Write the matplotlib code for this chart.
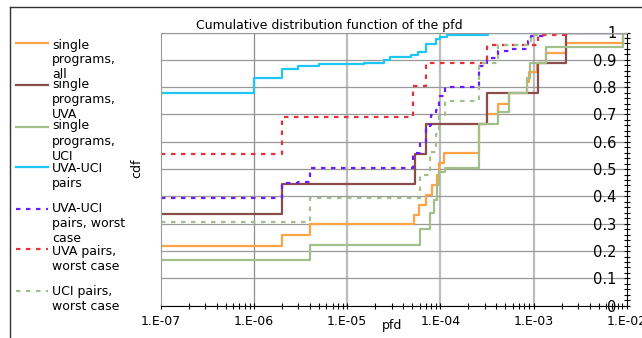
import matplotlib
matplotlib.use('Agg')
import matplotlib.pyplot as plt
from matplotlib.lines import Line2D
from matplotlib.ticker import LogLocator, MultipleLocator, FuncFormatter, NullFormatter
import numpy as np

plt.rcParams['font.family'] = ['DejaVu Sans']
plt.rcParams['font.size'] = 9

# step positions (pfd) and cdf level reached at each step
orange_x = [1e-7, 2e-6, 4e-6, 5.2e-5, 5.95e-5, 7.0e-5, 8.1e-5, 9.3e-5, 9.8e-5, 1.1e-4,
            2.6e-4, 3.2e-4, 4.2e-4, 5.5e-4, 8.6e-4, 9.0e-4, 1.1e-3, 1.36e-3, 2.23e-3, 9.2e-3]
orange_y = [0.22, 0.259, 0.298, 0.332, 0.369, 0.405, 0.442, 0.478, 0.521, 0.558,
            0.665, 0.70, 0.738, 0.778, 0.82, 0.854, 0.89, 0.925, 0.962, 1.0]

brown_x = [1e-7, 2e-6, 5.3e-5, 7.0e-5, 3.2e-4, 1.13e-3, 2.23e-3]
brown_y = [0.335, 0.444, 0.555, 0.665, 0.778, 0.889, 1.0]

green_x = [1e-7, 4e-6, 6.1e-5, 7.8e-5, 8.5e-5, 9.3e-5, 9.8e-5, 1.12e-4, 2.6e-4,
           4.2e-4, 5.5e-4, 8.6e-4, 9.2e-4, 1.36e-3, 9.2e-3]
green_y = [0.167, 0.222, 0.28, 0.338, 0.387, 0.442, 0.49, 0.503, 0.665,
           0.71, 0.778, 0.833, 0.888, 0.946, 1.0]

cyan_x = [1e-7, 1e-6, 2e-6, 3e-6, 5e-6, 1.5e-5, 2.5e-5, 2.9e-5, 4.8e-5, 5.7e-5,
          7.0e-5, 9.1e-5, 1.0e-4, 1.17e-4, 3.25e-4]
cyan_y = [0.78, 0.835, 0.865, 0.877, 0.883, 0.89, 0.90, 0.91, 0.918, 0.93,
          0.958, 0.976, 0.984, 0.99, 1.0]

purple_x = [1e-7, 2e-6, 3e-6, 4e-6, 5.1e-5, 6.05e-5, 7.0e-5, 7.7e-5, 8.0e-5, 9.1e-5,
            9.6e-5, 1.12e-4, 2.6e-4, 3.2e-4, 4.2e-4, 5.5e-4, 8.8e-4, 9.4e-4, 1.4e-3]
purple_y = [0.395, 0.448, 0.454, 0.505, 0.558, 0.60, 0.649, 0.661, 0.698, 0.716,
            0.769, 0.80, 0.876, 0.905, 0.931, 0.94, 0.968, 0.986, 1.0]

red_x = [1e-7, 2e-6, 5.1e-5, 7.0e-5, 3.2e-4, 1.13e-3, 2.23e-3]
red_y = [0.555, 0.692, 0.805, 0.889, 0.954, 0.99, 1.0]

uci_x = [1e-7, 4e-6, 6.1e-5, 7.8e-5, 9.0e-5, 9.6e-5, 1.12e-4, 2.6e-4, 4.2e-4,
         8.8e-4, 9.4e-4, 1.1e-3]
uci_y = [0.305, 0.395, 0.478, 0.564, 0.63, 0.698, 0.749, 0.89, 0.955,
         0.97, 0.99, 1.0]

labels = ['single\nprograms,\nall', 'single\nprograms,\nUVA', 'single\nprograms,\nUCI',
          'UVA-UCI\npairs', 'UVA-UCI\npairs, worst\ncase', 'UVA pairs,\nworst case',
          'UCI pairs,\nworst case']

series = [
    (orange_x, orange_y, '#FFA347', '-'),
    (brown_x, brown_y, '#8B4C4C', '-'),
    (green_x, green_y, '#A3C08A', '-'),
    (cyan_x, cyan_y, '#1EC6F6', '-'),
    (purple_x, purple_y, '#6A1CFF', (0, (2, 2.5))),
    (red_x, red_y, '#E8303A', (0, (2, 2.5))),
    (uci_x, uci_y, '#A3C08A', (0, (2, 2.5))),
]

XMIN, XMAX = 1e-7, 1e-2
W, H = 642, 338
fig = plt.figure(figsize=(W / 100, H / 100), dpi=100)
ax = fig.add_axes([160.7 / W, 1 - 305.7 / H, (626.7 - 160.7) / W, (305.7 - 32.5) / H])

# grid: horizontal every 0.1, vertical at decades (lighter, wider past 1e-6)
for v in [1e-6]:
    ax.axvline(v, color='#8c8c8c', lw=0.9, zorder=0)
for v in [1e-5, 1e-4, 1e-3]:
    ax.axvline(v, color='#bdbdbd', lw=1.6, zorder=0)
ax.grid(True, axis='y', which='major', color='#999999', lw=0.9)
ax.set_axisbelow(True)

for xs, ys, col, ls in series:
    ax.plot(xs + [XMAX], ys + [ys[-1]], drawstyle='steps-post', color=col,
            linestyle=ls, lw=1.6)

ax.set_xscale('log')
ax.set_xlim(XMIN, XMAX)
ax.set_ylim(0, 1)

ax.xaxis.set_major_locator(LogLocator(base=10, numticks=10))
ax.xaxis.set_minor_locator(LogLocator(base=10, subs=np.arange(2, 10), numticks=10))
ax.xaxis.set_major_formatter(FuncFormatter(lambda v, p: '1.E-%02d' % round(-np.log10(v))))
ax.xaxis.set_minor_formatter(NullFormatter())
ax.yaxis.set_major_locator(MultipleLocator(0.1))
ax.yaxis.set_minor_locator(MultipleLocator(0.02))
ax.yaxis.set_major_formatter(FuncFormatter(lambda v, p: '%g' % round(v, 1)))

ax.tick_params(axis='x', which='major', direction='inout', length=5, width=0.8, pad=4)
ax.tick_params(axis='x', which='minor', direction='inout', length=4, width=0.8)
ax.yaxis.tick_right()
ax.tick_params(axis='y', which='major', direction='inout', length=5, width=0.8,
               labelsize=10.5, pad=-10)
ax.tick_params(axis='y', which='minor', direction='inout', length=4, width=0.8)
for t in ax.get_yticklabels():
    t.set_horizontalalignment('right')

ax.spines['left'].set_color('#999999')
ax.spines['top'].set_color('#999999')

fig.text(329 / W, 1 - 25 / H, 'Cumulative distribution function of the pfd',
         ha='center', va='center')
fig.text(392 / W, 1 - 325 / H, 'pfd', ha='center', va='center')
fig.text(137 / W, 1 - 168 / H, 'cdf', ha='center', va='center', rotation=90)

# outer frame
fig.add_artist(Line2D([10 / W, 1], [1 - 7 / H, 1 - 7 / H], color='#333333', lw=1))
fig.add_artist(Line2D([10 / W, 10 / W], [0, 1 - 7 / H], color='#333333', lw=1))

# legend
line_y = [43, 85, 127, 167, 209, 249, 291]
text_y = [60, 100, 141, 175.5, 224, 259, 299]
for (xs, ys, col, ls), lab, ly, ty in zip(series, labels, line_y, text_y):
    fig.add_artist(Line2D([16 / W, 48 / W], [1 - ly / H, 1 - ly / H], color=col,
                          linestyle=ls, lw=1.6))
    fig.text(52 / W, 1 - ty / H, lab, ha='left', va='center', linespacing=1.2)

fig.savefig('out.png', dpi=100)
